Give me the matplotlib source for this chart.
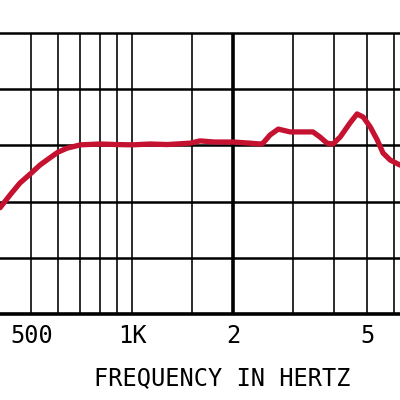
import matplotlib
matplotlib.use("Agg")
import matplotlib.pyplot as plt

# Data (frequency in Hz, level in dB, 10 dB per division)
freqs = [403, 432, 462, 500, 530, 568, 600, 638, 700, 800, 900, 1000, 1130, 1270,
         1485, 1590, 1760, 2000, 2240, 2400, 2450, 2570, 2720, 2950, 3160, 3450,
         3620, 3800, 3960, 4160, 4450, 4670, 4870, 5110, 5360, 5580, 5860, 6270]
level = [-11.1, -8.8, -6.7, -4.9, -3.5, -2.2, -1.2, -0.5, 0.1, 0.25, 0.15, 0.1, 0.25, 0.15,
         0.4, 0.8, 0.6, 0.6, 0.4, 0.25, 0.4, 1.85, 2.9, 2.4, 2.4, 2.4,
         1.5, 0.4, 0.25, 1.5, 4.0, 5.6, 5.05, 3.3, 1.0, -1.35, -2.6, -3.5]

grid_freqs = [500, 600, 700, 800, 900, 1000, 1500, 3000, 4000, 5000, 6000]
major_grid_freq = 2000
grid_levels = [10, 0, -10, -20]
tick_freqs = [500, 1000, 2000, 5000]
tick_labels = ["500", "1K", "2", "5"]
xlabel = "FREQUENCY IN HERTZ"

fig = plt.figure(figsize=(4, 4), dpi=100)
ax = fig.add_axes([0.0, 0.215, 1.0, 0.7025])
ax.set_xscale("log")
ax.set_xlim(403, 6270)
ax.set_ylim(-30, 20)

for f in grid_freqs:
    ax.axvline(f, color="#1a1a1a", lw=1.3, zorder=1)
ax.axvline(major_grid_freq, color="black", lw=2.6, zorder=1)
for g in grid_levels:
    ax.axhline(g, color="black", lw=1.8, zorder=1)

ax.plot(freqs, level, color="#C41230", lw=3.8, solid_joinstyle="round",
        solid_capstyle="round", zorder=3)

for s in ["left", "right"]:
    ax.spines[s].set_visible(False)
ax.spines["top"].set_linewidth(1.8)
ax.spines["bottom"].set_linewidth(2.6)

ax.set_yticks([])
ax.minorticks_off()
ax.set_xticks(tick_freqs)
ax.set_xticklabels(tick_labels, fontfamily="DejaVu Sans Mono", fontsize=17)
ax.tick_params(axis="x", length=0, pad=7)

fig.text(222 / 400, 1 - 385 / 400, xlabel, ha="center", va="baseline",
         fontfamily="DejaVu Sans Mono", fontsize=17)

fig.savefig("out.png", dpi=100)
